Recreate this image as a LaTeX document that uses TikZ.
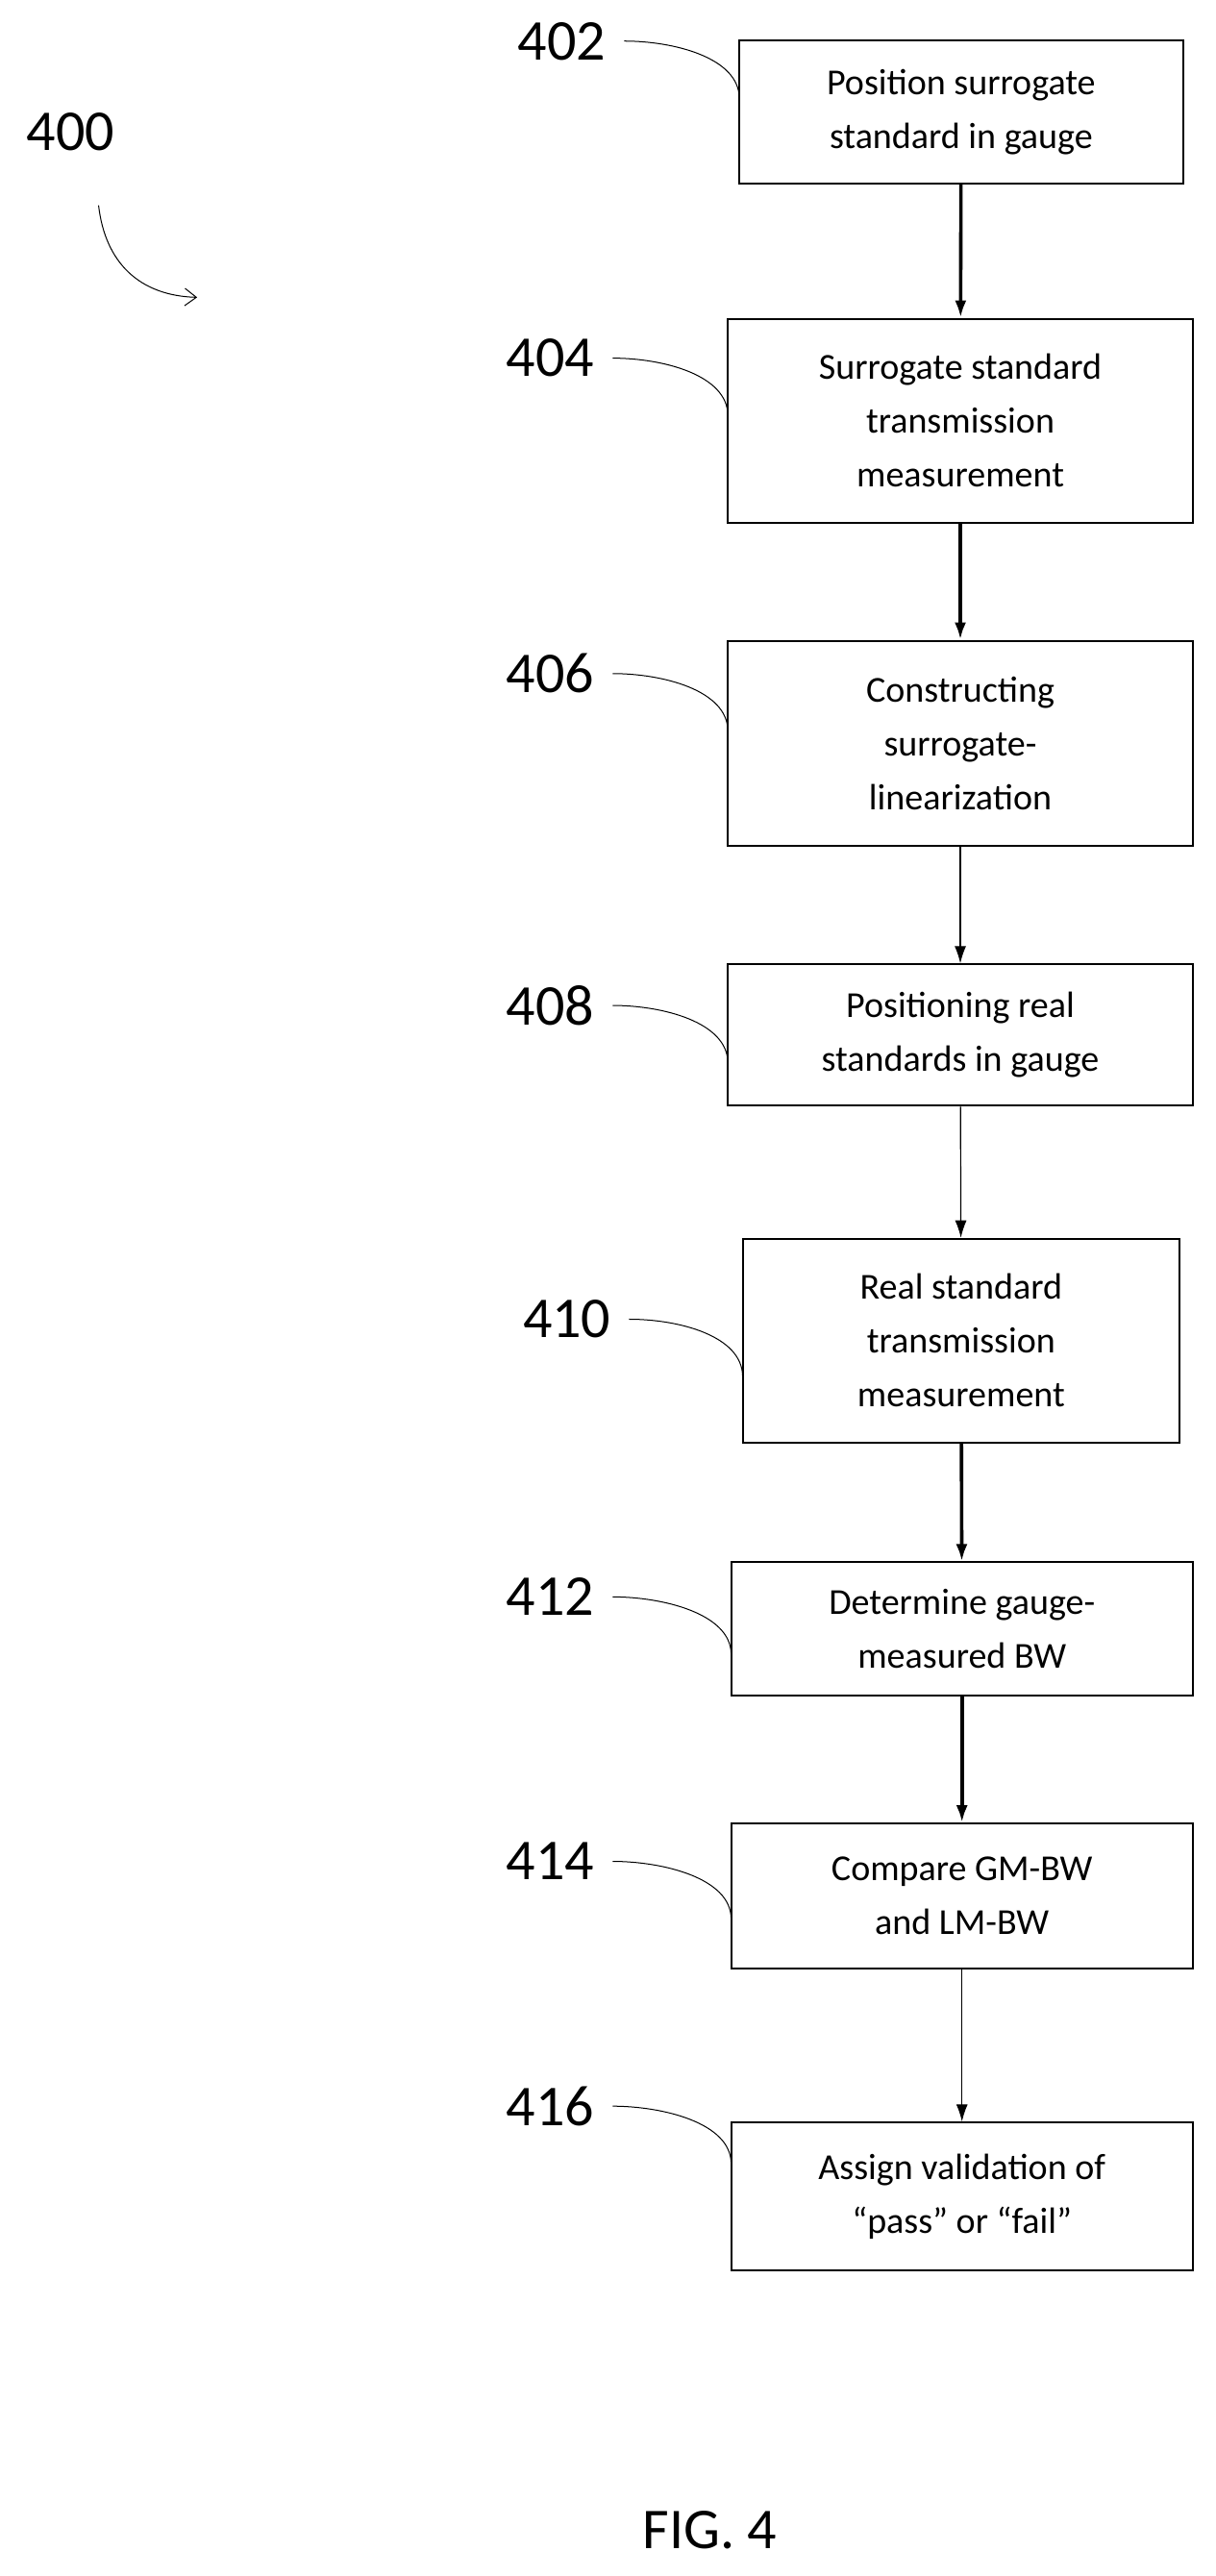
\documentclass[tikz,border=0pt]{standalone}
\usepackage{fontspec}
\setmainfont{Carlito}
\usetikzlibrary{arrows.meta}
\begin{document}
\begin{tikzpicture}[x=0.03cm,y=-0.03cm,
  stepbox/.style={draw,line width=1pt,align=center,font=\fontsize{19}{28}\selectfont,inner sep=0pt},
  lbl/.style={font=\fontsize{30}{30}\selectfont},
  thick arrow/.style={-{Latex[length=9pt,width=6pt]},line width=1.8pt},
  thin arrow/.style={-{Latex[length=9pt,width=6pt]},line width=0.6pt},
  leader/.style={line width=0.5pt}]
\useasboundingbox (0,0) rectangle (740,1568);
\node[stepbox,minimum width=270*0.03cm,minimum height=87*0.03cm] (b402) at (585,68) {Position surrogate\\standard in gauge};
\node[stepbox,minimum width=283*0.03cm,minimum height=124*0.03cm] (b404) at (584.5,256) {Surrogate standard\\transmission\\measurement};
\node[stepbox,minimum width=283*0.03cm,minimum height=125*0.03cm] (b406) at (584.5,452.5) {Constructing\\surrogate-\\linearization};
\node[stepbox,minimum width=283*0.03cm,minimum height=86*0.03cm] (b408) at (584.5,630) {Positioning real\\standards in gauge};
\node[stepbox,minimum width=266*0.03cm,minimum height=124*0.03cm] (b410) at (585,816) {Real standard\\transmission\\measurement};
\node[stepbox,minimum width=281*0.03cm,minimum height=81*0.03cm] (b412) at (585.5,991.5) {Determine gauge-\\measured BW};
\node[stepbox,minimum width=281*0.03cm,minimum height=88*0.03cm] (b414) at (585.5,1154) {Compare GM-BW\\and LM-BW};
\node[stepbox,minimum width=281*0.03cm,minimum height=90*0.03cm] (b416) at (585.5,1337) {Assign validation of\\“pass” or “fail”};
\draw[thick arrow] (b402) -- (b404);
\draw[thick arrow] (b404) -- (b406);
\draw[thin arrow] (b406) -- (b408);
\draw[thin arrow] (b408) -- (b410);
\draw[thick arrow] (b410) -- (b412);
\draw[thick arrow] (b412) -- (b414);
\draw[thin arrow] (b414) -- (b416);
\node[lbl] (l400) at (43,80) {400};
\node[lbl] (l402) at (342,25) {402};
\node[lbl] (l404) at (335,218) {404};
\node[lbl] (l406) at (335,410) {406};
\node[lbl] (l408) at (335,612) {408};
\node[lbl] (l410) at (345,803) {410};
\node[lbl] (l412) at (335,972) {412};
\node[lbl] (l414) at (335,1133) {414};
\node[lbl] (l416) at (335,1282) {416};
\node[lbl] (fig) at (432,1540) {FIG. 4};
\foreach \n/\y/\bx in {402/25/450,404/218/443,406/410/443,408/612/443,410/803/452,412/972/445,414/1133/445,416/1282/445}
  \draw[leader] ([xshift=6pt]l\n.east) .. controls ++(30,0) and ++(0,-25) .. (\bx,\y+35);
\coordinate (a400s) at (60,125);
\coordinate (a400e) at (120,181);
\draw[leader,-{Straight Barb[length=6pt,width=9pt]}] (a400s) .. controls (64,160) and (85,180) .. (a400e);
\end{tikzpicture}
\end{document}
